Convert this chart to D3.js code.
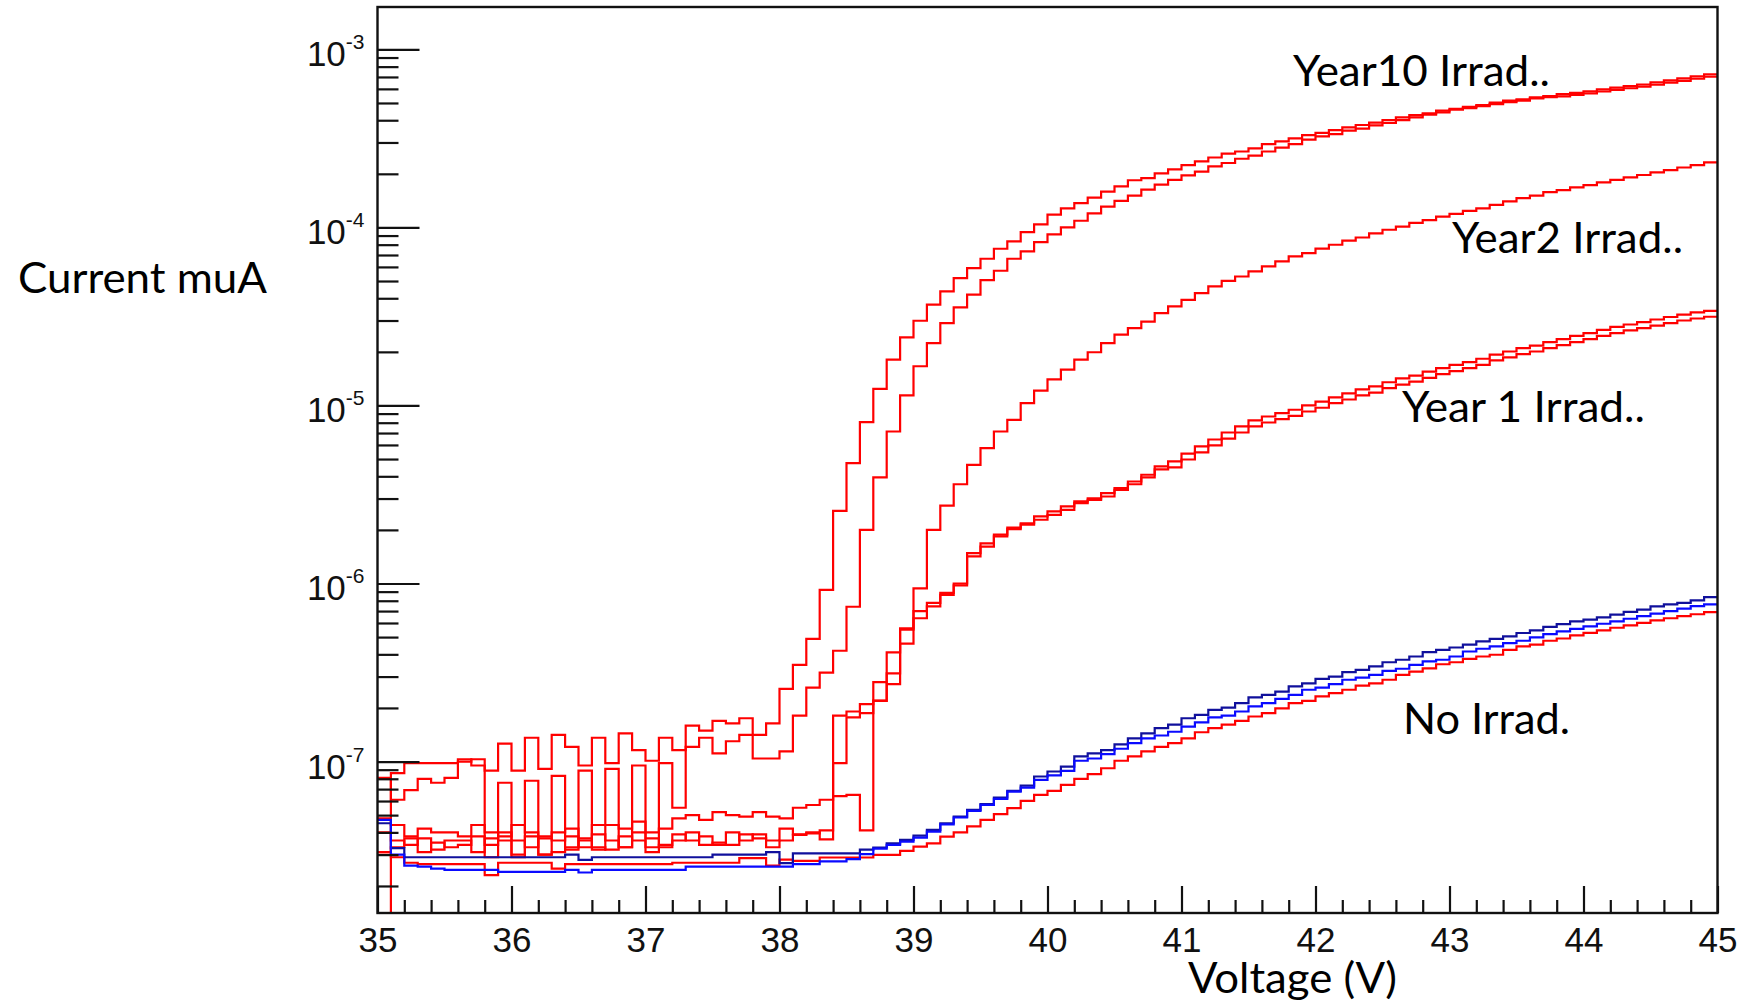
<!DOCTYPE html>
<html>
<head>
<meta charset="utf-8">
<script src="https://cdn.jsdelivr.net/npm/d3@7"></script>
<style>
  html, body { margin: 0; padding: 0; background: #fff; }
  svg { display: block; }
  .tick text { font-family: "Liberation Sans", Arial, sans-serif; fill: #111; }
  .note { font-family: Lato, "Open Sans", sans-serif; font-size: 42px; fill: #000; }
</style>
</head>
<body>
<div id="chart"></div>
<script>
// lower edge of each 0.1 V bin
const voltage = [
  35.0, 35.1, 35.2, 35.3, 35.4, 35.5, 35.6, 35.7, 35.8, 35.9,
  36.0, 36.1, 36.2, 36.3, 36.4, 36.5, 36.6, 36.7, 36.8, 36.9,
  37.0, 37.1, 37.2, 37.3, 37.4, 37.5, 37.6, 37.7, 37.8, 37.9,
  38.0, 38.1, 38.2, 38.3, 38.4, 38.5, 38.6, 38.7, 38.8, 38.9,
  39.0, 39.1, 39.2, 39.3, 39.4, 39.5, 39.6, 39.7, 39.8, 39.9,
  40.0, 40.1, 40.2, 40.3, 40.4, 40.5, 40.6, 40.7, 40.8, 40.9,
  41.0, 41.1, 41.2, 41.3, 41.4, 41.5, 41.6, 41.7, 41.8, 41.9,
  42.0, 42.1, 42.2, 42.3, 42.4, 42.5, 42.6, 42.7, 42.8, 42.9,
  43.0, 43.1, 43.2, 43.3, 43.4, 43.5, 43.6, 43.7, 43.8, 43.9,
  44.0, 44.1, 44.2, 44.3, 44.4, 44.5, 44.6, 44.7, 44.8, 44.9
];
const voltageMax = 45;

const year10a = [
  0, 8.6e-8, 9.8e-8, 9.8e-8, 9.8e-8, 9.8e-8, 1.0e-7, 1.03e-7, 8.9e-8, 1.26e-7,
  8.9e-8, 1.36e-7, 9.1e-8, 1.41e-7, 1.21e-7, 9.5e-8, 1.36e-7, 9.8e-8, 1.44e-7, 1.16e-7,
  1.01e-7, 1.36e-7, 1.16e-7, 1.59e-7, 1.49e-7, 1.69e-7, 1.64e-7, 1.75e-7, 1.41e-7, 1.64e-7,
  2.56e-7, 3.49e-7, 4.89e-7, 9.2e-7, 2.56e-6, 4.74e-6, 8.06e-6, 1.24e-5, 1.81e-5, 2.41e-5,
  2.99e-5, 3.68e-5, 4.37e-5, 5.19e-5, 5.9e-5, 6.67e-5, 7.59e-5, 8.34e-5, 9.4e-5, 1.04e-4,
  1.18e-4, 1.28e-4, 1.37e-4, 1.47e-4, 1.59e-4, 1.70e-4, 1.84e-4, 1.89e-4, 2.01e-4, 2.12e-4,
  2.24e-4, 2.35e-4, 2.47e-4, 2.60e-4, 2.67e-4, 2.78e-4, 2.94e-4, 3.04e-4, 3.16e-4, 3.30e-4,
  3.40e-4, 3.52e-4, 3.65e-4, 3.76e-4, 3.88e-4, 4.01e-4, 4.15e-4, 4.27e-4, 4.37e-4, 4.53e-4,
  4.64e-4, 4.76e-4, 4.87e-4, 5.02e-4, 5.15e-4, 5.24e-4, 5.38e-4, 5.47e-4, 5.60e-4, 5.70e-4,
  5.82e-4, 5.96e-4, 6.10e-4, 6.22e-4, 6.35e-4, 6.52e-4, 6.69e-4, 6.87e-4, 7.05e-4, 7.24e-4
];

const year10b = [
  8.1e-8, 6.1e-8, 6.9e-8, 8.0e-8, 7.6e-8, 8.1e-8, 1.03e-7, 9.5e-8, 2.9e-8, 7.6e-8,
  2.9e-8, 7.8e-8, 3.0e-8, 8.3e-8, 3.2e-8, 8.9e-8, 3.2e-8, 9.1e-8, 3.3e-8, 9.5e-8,
  3.3e-8, 9.8e-8, 5.5e-8, 1.21e-7, 1.36e-7, 1.11e-7, 1.30e-7, 1.41e-7, 1.04e-7, 1.04e-7,
  1.14e-7, 1.81e-7, 2.6e-7, 3.16e-7, 4.19e-7, 7.4e-7, 2.0e-6, 3.94e-6, 7.14e-6, 1.14e-5,
  1.66e-5, 2.24e-5, 2.9e-5, 3.56e-5, 4.19e-5, 5.06e-5, 5.71e-5, 6.67e-5, 7.33e-5, 8.27e-5,
  9.13e-5, 1.0e-4, 1.09e-4, 1.2e-4, 1.31e-4, 1.41e-4, 1.51e-4, 1.63e-4, 1.74e-4, 1.85e-4,
  1.96e-4, 2.06e-4, 2.2e-4, 2.3e-4, 2.43e-4, 2.53e-4, 2.67e-4, 2.81e-4, 2.94e-4, 3.11e-4,
  3.25e-4, 3.34e-4, 3.5e-4, 3.59e-4, 3.74e-4, 3.86e-4, 4.01e-4, 4.15e-4, 4.3e-4, 4.43e-4,
  4.58e-4, 4.68e-4, 4.8e-4, 4.92e-4, 5.05e-4, 5.15e-4, 5.3e-4, 5.4e-4, 5.45e-4, 5.55e-4,
  5.66e-4, 5.8e-4, 5.92e-4, 6.05e-4, 6.18e-4, 6.33e-4, 6.5e-4, 6.66e-4, 6.84e-4, 7.02e-4
];

const year2 = [
  4.8e-8, 4.4e-8, 3.8e-8, 4.2e-8, 4.0e-8, 4.0e-8, 3.8e-8, 4.4e-8, 4.0e-8, 3.8e-8,
  4.4e-8, 4.0e-8, 3.8e-8, 4.0e-8, 4.2e-8, 3.7e-8, 4.4e-8, 4.4e-8, 4.2e-8, 4.6e-8,
  4.0e-8, 4.2e-8, 4.8e-8, 5.0e-8, 4.7e-8, 5.2e-8, 5.0e-8, 4.9e-8, 5.2e-8, 4.9e-8,
  4.8e-8, 5.5e-8, 5.7e-8, 6.1e-8, 6.4e-8, 6.5e-8, 4.1e-8, 2.2e-7, 4.1e-7, 4.6e-7,
  9.4e-7, 2.0e-6, 2.74e-6, 3.61e-6, 4.64e-6, 5.76e-6, 7.14e-6, 8.3e-6, 1.03e-5, 1.21e-5,
  1.4e-5, 1.59e-5, 1.81e-5, 1.99e-5, 2.24e-5, 2.5e-5, 2.72e-5, 2.96e-5, 3.3e-5, 3.6e-5,
  3.92e-5, 4.27e-5, 4.66e-5, 5.01e-5, 5.3e-5, 5.66e-5, 6.04e-5, 6.44e-5, 6.87e-5, 7.17e-5,
  7.6e-5, 7.99e-5, 8.42e-5, 8.78e-5, 9.27e-5, 9.7e-5, 1.01e-4, 1.06e-4, 1.1e-4, 1.15e-4,
  1.19e-4, 1.24e-4, 1.28e-4, 1.34e-4, 1.4e-4, 1.46e-4, 1.51e-4, 1.58e-4, 1.62e-4, 1.68e-4,
  1.73e-4, 1.79e-4, 1.85e-4, 1.91e-4, 1.97e-4, 2.04e-4, 2.1e-4, 2.17e-4, 2.24e-4, 2.32e-4
];

const year1a = [
  4.0e-8, 3.6e-8, 3.4e-8, 3.7e-8, 3.2e-8, 3.6e-8, 3.6e-8, 3.1e-8, 3.7e-8, 3.6e-8,
  3.0e-8, 3.8e-8, 3.0e-8, 3.1e-8, 3.3e-8, 3.6e-8, 3.3e-8, 3.2e-8, 3.8e-8, 3.6e-8,
  3.1e-8, 3.4e-8, 3.6e-8, 4.0e-8, 3.4e-8, 3.5e-8, 3.4e-8, 3.9e-8, 3.7e-8, 3.6e-8,
  4.2e-8, 3.9e-8, 4.0e-8, 3.65e-8, 1.81e-7, 1.91e-7, 2.1e-7, 2.79e-7, 3.13e-7, 5.6e-7,
  6.99e-7, 7.79e-7, 8.86e-7, 1.0e-6, 1.48e-6, 1.68e-6, 1.88e-6, 2.06e-6, 2.18e-6, 2.38e-6,
  2.54e-6, 2.71e-6, 2.89e-6, 3.01e-6, 3.22e-6, 3.43e-6, 3.74e-6, 4.08e-6, 4.55e-6, 4.85e-6,
  5.37e-6, 5.89e-6, 6.44e-6, 7.05e-6, 7.62e-6, 8.24e-6, 8.67e-6, 9.05e-6, 9.46e-6, 1.0e-5,
  1.05e-5, 1.11e-5, 1.17e-5, 1.23e-5, 1.28e-5, 1.35e-5, 1.42e-5, 1.47e-5, 1.55e-5, 1.62e-5,
  1.69e-5, 1.75e-5, 1.83e-5, 1.93e-5, 2.01e-5, 2.1e-5, 2.17e-5, 2.27e-5, 2.36e-5, 2.46e-5,
  2.55e-5, 2.66e-5, 2.76e-5, 2.85e-5, 2.94e-5, 3.04e-5, 3.14e-5, 3.24e-5, 3.33e-5, 3.4e-5
];

const year1b = [
  3.1e-8, 3.3e-8, 3.7e-8, 3.1e-8, 3.5e-8, 3.3e-8, 3.4e-8, 3.8e-8, 3.4e-8, 4.0e-8,
  3.6e-8, 3.3e-8, 3.7e-8, 3.6e-8, 3.8e-8, 3.3e-8, 3.9e-8, 3.6e-8, 3.3e-8, 4.0e-8,
  3.7e-8, 3.3e-8, 3.9e-8, 3.6e-8, 3.8e-8, 3.4e-8, 4.0e-8, 3.6e-8, 3.9e-8, 3.3e-8,
  3.6e-8, 3.87e-8, 3.95e-8, 4.1e-8, 9.8e-8, 1.77e-7, 1.87e-7, 2.19e-7, 2.72e-7, 5.5e-7,
  6.38e-7, 7.43e-7, 8.63e-7, 9.77e-7, 1.42e-6, 1.61e-6, 1.84e-6, 2.02e-6, 2.14e-6, 2.28e-6,
  2.43e-6, 2.59e-6, 2.83e-6, 2.95e-6, 3.08e-6, 3.36e-6, 3.61e-6, 3.94e-6, 4.37e-6, 4.49e-6,
  4.97e-6, 5.45e-6, 5.96e-6, 6.52e-6, 7.05e-6, 7.62e-6, 8.02e-6, 8.37e-6, 8.75e-6, 9.25e-6,
  9.71e-6, 1.03e-5, 1.08e-5, 1.14e-5, 1.18e-5, 1.25e-5, 1.31e-5, 1.36e-5, 1.43e-5, 1.5e-5,
  1.56e-5, 1.62e-5, 1.69e-5, 1.79e-5, 1.86e-5, 1.94e-5, 2.01e-5, 2.1e-5, 2.18e-5, 2.27e-5,
  2.36e-5, 2.46e-5, 2.55e-5, 2.64e-5, 2.72e-5, 2.81e-5, 2.9e-5, 3.0e-5, 3.08e-5, 3.15e-5
];

const noIrradRed = [
  3.1e-8, 2.9e-8, 2.7e-8, 2.65e-8, 2.65e-8, 2.65e-8, 2.65e-8, 2.65e-8, 2.3e-8, 2.7e-8,
  2.7e-8, 2.7e-8, 2.7e-8, 2.5e-8, 2.65e-8, 2.65e-8, 2.65e-8, 2.65e-8, 2.65e-8, 2.65e-8,
  2.65e-8, 2.65e-8, 2.7e-8, 2.7e-8, 2.7e-8, 2.7e-8, 2.7e-8, 2.87e-8, 2.87e-8, 2.6e-8,
  2.81e-8, 2.77e-8, 2.77e-8, 2.89e-8, 2.89e-8, 2.89e-8, 2.89e-8, 2.99e-8, 2.99e-8, 3.15e-8,
  3.33e-8, 3.47e-8, 3.79e-8, 4.0e-8, 4.32e-8, 4.7e-8, 5.06e-8, 5.47e-8, 6.01e-8, 6.5e-8,
  6.84e-8, 7.4e-8, 7.99e-8, 8.49e-8, 9.17e-8, 1.01e-7, 1.07e-7, 1.14e-7, 1.21e-7, 1.27e-7,
  1.35e-7, 1.46e-7, 1.54e-7, 1.61e-7, 1.69e-7, 1.79e-7, 1.87e-7, 1.99e-7, 2.13e-7, 2.19e-7,
  2.32e-7, 2.42e-7, 2.53e-7, 2.67e-7, 2.75e-7, 2.88e-7, 3.07e-7, 3.2e-7, 3.34e-7, 3.52e-7,
  3.61e-7, 3.77e-7, 3.89e-7, 3.98e-7, 4.24e-7, 4.43e-7, 4.53e-7, 4.77e-7, 4.91e-7, 5.11e-7,
  5.28e-7, 5.46e-7, 5.64e-7, 5.82e-7, 6.01e-7, 6.21e-7, 6.38e-7, 6.55e-7, 6.72e-7, 6.9e-7
];

const noIrradDarkBlue = [
  4.5e-8, 3.26e-8, 2.9e-8, 2.9e-8, 2.9e-8, 2.9e-8, 2.9e-8, 2.9e-8, 2.9e-8, 2.9e-8,
  2.9e-8, 2.9e-8, 2.9e-8, 2.9e-8, 3.0e-8, 2.8e-8, 2.9e-8, 2.9e-8, 2.9e-8, 2.9e-8,
  2.9e-8, 2.9e-8, 2.9e-8, 2.9e-8, 2.9e-8, 3.0e-8, 3.0e-8, 3.0e-8, 3.0e-8, 3.1e-8,
  2.69e-8, 3.05e-8, 3.05e-8, 3.05e-8, 3.05e-8, 3.05e-8, 3.2e-8, 3.29e-8, 3.47e-8, 3.63e-8,
  3.84e-8, 4.13e-8, 4.5e-8, 4.91e-8, 5.35e-8, 5.76e-8, 6.28e-8, 6.84e-8, 7.33e-8, 8.24e-8,
  8.79e-8, 9.37e-8, 1.07e-7, 1.11e-7, 1.16e-7, 1.25e-7, 1.35e-7, 1.44e-7, 1.54e-7, 1.61e-7,
  1.75e-7, 1.83e-7, 1.95e-7, 2.01e-7, 2.13e-7, 2.29e-7, 2.37e-7, 2.47e-7, 2.64e-7, 2.75e-7,
  2.91e-7, 3.0e-7, 3.18e-7, 3.27e-7, 3.42e-7, 3.61e-7, 3.73e-7, 3.89e-7, 4.12e-7, 4.24e-7,
  4.37e-7, 4.53e-7, 4.73e-7, 4.89e-7, 5.04e-7, 5.27e-7, 5.46e-7, 5.7e-7, 5.92e-7, 6.13e-7,
  6.27e-7, 6.46e-7, 6.69e-7, 6.92e-7, 7.14e-7, 7.43e-7, 7.64e-7, 7.79e-7, 8.03e-7, 8.38e-7
];

const noIrradBlue = [
  4.7e-8, 3.0e-8, 2.6e-8, 2.57e-8, 2.5e-8, 2.46e-8, 2.46e-8, 2.46e-8, 2.46e-8, 2.4e-8,
  2.4e-8, 2.4e-8, 2.4e-8, 2.4e-8, 2.46e-8, 2.38e-8, 2.46e-8, 2.46e-8, 2.46e-8, 2.46e-8,
  2.46e-8, 2.46e-8, 2.46e-8, 2.57e-8, 2.57e-8, 2.57e-8, 2.57e-8, 2.57e-8, 2.57e-8, 2.57e-8,
  2.57e-8, 2.65e-8, 2.65e-8, 2.75e-8, 2.75e-8, 2.83e-8, 3.02e-8, 3.24e-8, 3.4e-8, 3.55e-8,
  3.74e-8, 4.04e-8, 4.44e-8, 4.85e-8, 5.28e-8, 5.71e-8, 6.17e-8, 6.78e-8, 7.14e-8, 7.89e-8,
  8.35e-8, 8.87e-8, 1.01e-7, 1.04e-7, 1.1e-7, 1.18e-7, 1.27e-7, 1.35e-7, 1.4e-7, 1.47e-7,
  1.57e-7, 1.66e-7, 1.77e-7, 1.81e-7, 1.91e-7, 2.04e-7, 2.13e-7, 2.25e-7, 2.37e-7, 2.53e-7,
  2.6e-7, 2.72e-7, 2.88e-7, 2.96e-7, 3.07e-7, 3.23e-7, 3.32e-7, 3.49e-7, 3.65e-7, 3.73e-7,
  3.89e-7, 4.15e-7, 4.3e-7, 4.43e-7, 4.62e-7, 4.77e-7, 4.98e-7, 5.2e-7, 5.38e-7, 5.56e-7,
  5.74e-7, 5.94e-7, 6.13e-7, 6.34e-7, 6.55e-7, 6.77e-7, 6.99e-7, 7.22e-7, 7.46e-7, 7.64e-7
];

const xTickLabels = [35, 36, 37, 38, 39, 40, 41, 42, 43, 44, 45];
const yDecades = [1e-7, 1e-6, 1e-5, 1e-4, 1e-3];
const yDecadeLabels = ['-7', '-6', '-5', '-4', '-3'];
const yMin = 1.41e-8, yMax = 1.73e-3;

const annotations = [
  { text: 'Year10 Irrad..', x: 1293, y: 86, w: 257 },
  { text: 'Year2 Irrad..', x: 1452, y: 253, w: 231 },
  { text: 'Year 1 Irrad..', x: 1402, y: 422, w: 243 },
  { text: 'No Irrad.', x: 1403, y: 734, w: 167 }
];

// drawing order: reds first, blues on top
const series = [
  { values: year10a, color: '#ff0000' },
  { values: year10b, color: '#ff0000' },
  { values: year2, color: '#ff0000' },
  { values: year1a, color: '#ff0000' },
  { values: year1b, color: '#ff0000' },
  { values: noIrradRed, color: '#ff0000' },
  { values: noIrradDarkBlue, color: '#10109c' },
  { values: noIrradBlue, color: '#0a0aff' }
];

const width = 1742, height = 1003;
const plotLeft = 377.5, plotRight = 1717.5, plotTop = 7, plotBottom = 913;

const svg = d3.select('#chart').append('svg')
  .attr('width', width)
  .attr('height', height);

const x = d3.scaleLinear().domain([35, voltageMax]).range([plotLeft, plotRight]);
const y = d3.scaleLog().domain([yMin, yMax]).range([plotBottom, plotTop]);

svg.append('clipPath').attr('id', 'plot-clip')
  .append('rect')
  .attr('x', plotLeft).attr('y', plotTop)
  .attr('width', plotRight - plotLeft).attr('height', plotBottom - plotTop);

// histogram step lines
const line = d3.line()
  .x(d => x(d[0]))
  .y(d => y(Math.max(d[1], yMin)))
  .curve(d3.curveStepAfter);

const plot = svg.append('g').attr('clip-path', 'url(#plot-clip)');
series.forEach(s => {
  const pts = voltage.map((v, i) => [v, s.values[i]]);
  pts.push([voltageMax, s.values[s.values.length - 1]]);
  plot.append('path')
    .datum(pts)
    .attr('d', line)
    .attr('fill', 'none')
    .attr('stroke', s.color)
    .attr('stroke-width', 2.2)
    .attr('stroke-linejoin', 'miter');
});

// x axis: major and minor ticks pointing up
const xMinor = [];
for (let v = 35.2; v < 45; v += 0.2) {
  if (Math.abs(v - Math.round(v)) > 0.01) xMinor.push(v);
}
const xAxisMinor = svg.append('g')
  .attr('transform', `translate(0,${plotBottom})`)
  .call(d3.axisBottom(x).tickValues(xMinor).tickSize(-13).tickFormat(''));
const xAxis = svg.append('g')
  .attr('transform', `translate(0,${plotBottom})`)
  .call(d3.axisBottom(x).tickValues(xTickLabels).tickSize(-27).tickPadding(14).tickFormat(d3.format('d')));
xAxis.selectAll('text').style('font-size', '35px');

// y axis: decades and minor ticks pointing right
const yMinor = [];
[1e-8, 1e-7, 1e-6, 1e-5, 1e-4, 1e-3].forEach(dec => {
  for (let m = 2; m <= 9; m++) {
    const v = m * dec;
    if (v > yMin && v < yMax) yMinor.push(v);
  }
});
const yAxisMinor = svg.append('g')
  .attr('transform', `translate(${plotLeft},0)`)
  .call(d3.axisLeft(y).tickValues(yMinor).tickSize(-21).tickFormat(''));
const yAxis = svg.append('g')
  .attr('transform', `translate(${plotLeft},0)`)
  .call(d3.axisLeft(y).tickValues(yDecades).tickSize(-42).tickFormat(''));

[xAxisMinor, xAxis, yAxisMinor, yAxis].forEach(g => {
  g.select('.domain').remove();
  g.selectAll('.tick line').attr('stroke', '#111').attr('stroke-width', 2.2);
});

// decade labels like 10^-3
yDecades.forEach((d, i) => {
  const t = svg.append('text')
    .attr('x', plotLeft - 13)
    .attr('y', y(d) + 17)
    .attr('text-anchor', 'end')
    .style('font-family', '"Liberation Sans", Arial, sans-serif')
    .style('font-size', '35px')
    .style('fill', '#111');
  t.append('tspan').text('10');
  t.append('tspan')
    .attr('dy', -17)
    .style('font-size', '21px')
    .text(yDecadeLabels[i]);
});

// frame
svg.append('rect')
  .attr('x', plotLeft).attr('y', plotTop)
  .attr('width', plotRight - plotLeft).attr('height', plotBottom - plotTop)
  .attr('fill', 'none')
  .attr('stroke', '#111')
  .attr('stroke-width', 2.4);

// axis titles
svg.append('text')
  .attr('class', 'note')
  .attr('x', 18).attr('y', 292.5)
  .attr('textLength', 249).attr('lengthAdjust', 'spacingAndGlyphs')
  .text('Current muA');

svg.append('text')
  .attr('class', 'note')
  .attr('x', 1188).attr('y', 992.5)
  .attr('textLength', 209).attr('lengthAdjust', 'spacingAndGlyphs')
  .text('Voltage (V)');

// curve labels
annotations.forEach(a => {
  svg.append('text')
    .attr('class', 'note')
    .attr('x', a.x).attr('y', a.y)
    .attr('textLength', a.w).attr('lengthAdjust', 'spacingAndGlyphs')
    .text(a.text);
});
</script>
</body>
</html>
